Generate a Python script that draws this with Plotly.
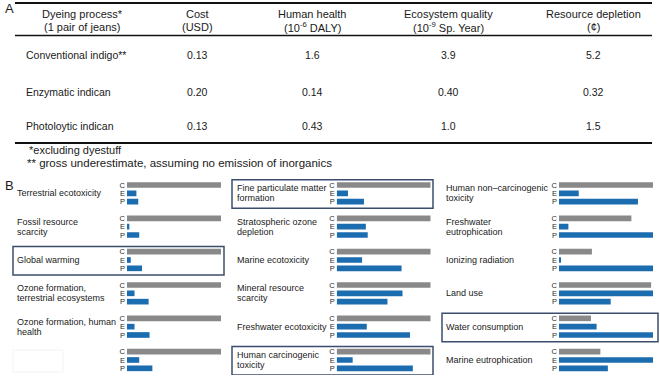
import plotly.graph_objects as go

W, H = 660, 376

# ---------------- Panel A data ----------------
table_headers = [["Dyeing process*", "(1 pair of jeans)"],
                 ["Cost", "(USD)"],
                 ["Human health", "(10<sup>-6</sup> DALY)"],
                 ["Ecosystem quality", "(10<sup>-9</sup> Sp. Year)"],
                 ["Resource depletion", "(¢)"]]
processes = ["Conventional indigo**", "Enzymatic indican", "Photoloytic indican"]
cost = ["0.13", "0.20", "0.13"]
human_health = ["1.6", "0.14", "0.43"]
ecosystem = ["3.9", "0.40", "1.0"]
resource = ["5.2", "0.32", "1.5"]
footnotes = ["*excluding dyestuff",
             "** gross underestimate, assuming no emission of inorganics"]

# ---------------- Panel B data ----------------
series = ["C", "E", "P"]
col1_labels = ["Terrestrial ecotoxicity", "Fossil resource<br>scarcity", "Global warming",
               "Ozone formation,<br>terrestrial ecosystems", "Ozone formation, human<br>health", ""]
col1_C = [1.0, 1.0, 1.0, 1.0, 1.0, 1.0]
col1_E = [0.10, 0.025, 0.04, 0.08, 0.08, 0.13]
col1_P = [0.12, 0.13, 0.16, 0.23, 0.24, 0.27]
col1_box = [2]

col2_labels = ["Fine particulate matter<br>formation", "Stratospheric ozone<br>depletion",
               "Marine ecotoxicity", "Mineral resource<br>scarcity", "Freshwater ecotoxicity",
               "Human carcinogenic<br>toxicity"]
col2_C = [1.0, 1.0, 1.0, 1.0, 1.0, 1.0]
col2_E = [0.12, 0.31, 0.27, 0.70, 0.32, 0.17]
col2_P = [0.29, 0.33, 0.69, 0.54, 0.78, 0.81]
col2_box = [0, 5]

col3_labels = ["Human non\u2013carcinogenic<br>toxicity", "Freshwater<br>eutrophication",
               "Ionizing radiation", "Land use", "Water consumption", "Marine eutrophication"]
col3_C = [1.0, 0.77, 0.35, 0.98, 0.34, 0.44]
col3_E = [0.21, 0.10, 0.015, 1.0, 0.40, 1.0]
col3_P = [0.84, 1.0, 1.0, 0.55, 1.0, 0.52]
col3_box = [4]

# ---------------- layout constants ----------------
FONT = "Liberation Sans, Arial, Helvetica, sans-serif"
TXT = "#1a1a1a"
GRAY = "#898989"
BLUE = "#1c6db0"
BOXC = "#3b4d6e"
UNIT = 33.33 / 4.0      # px per y unit
Y0 = 185.0              # px of first C bar
VLO, VHI = -1.0, 22.8


def px(x):
    return x / W


def py(y):
    return 1 - y / H


fig = go.Figure()
annotations = []
shapes = []


def text(x, y, s, size, xanchor="left", yref="paper", yshift=0, color=TXT):
    annotations.append(dict(x=x, y=y, xref="paper", yref=yref, text=s, showarrow=False,
                            xanchor=xanchor, yanchor="middle", yshift=yshift,
                            font=dict(family=FONT, size=size, color=color)))


# Panel letters
text(px(3), py(9), "A", 13)
text(px(3), py(185), "B", 13)

# Table rules
for yy, w in [(3, 1.8), (35.5, 1.6), (143, 1.8)]:
    shapes.append(dict(type="line", xref="paper", yref="paper", x0=px(15), x1=px(652),
                       y0=py(yy), y1=py(yy), line=dict(color="#111111", width=w)))

col_centers = [82, 197, 312, 448, 593]
for cx, hdr in zip(col_centers, table_headers):
    text(px(cx), py(14), hdr[0], 11, "center")
    text(px(cx), py(26.5), hdr[1], 11, "center")

row_y = [55, 91.5, 126]
for i, ry in enumerate(row_y):
    text(px(24), py(ry), processes[i], 10.5)
    for cx, col in zip(col_centers[1:], [cost, human_health, ecosystem, resource]):
        text(px(cx), py(ry), col[i], 10.5, "center")

text(px(27), py(150), footnotes[0], 11)
text(px(25), py(163), footnotes[1], 11.5)

# Panel B columns
columns = [
    dict(labels=col1_labels, vals=[col1_C, col1_E, col1_P], box=col1_box,
         bar=(127, 221), lab_x=15, box_x=(13, 224)),
    dict(labels=col2_labels, vals=[col2_C, col2_E, col2_P], box=col2_box,
         bar=(336.7, 430.7), lab_x=235, box_x=(232, 433)),
    dict(labels=col3_labels, vals=[col3_C, col3_E, col3_P], box=col3_box,
         bar=(559, 653), lab_x=444, box_x=(442, 658)),
]

ydom = [py(Y0 + VHI * UNIT), py(Y0 + VLO * UNIT)]
layout_axes = {}
for ci, col in enumerate(columns):
    n = "" if ci == 0 else str(ci + 1)
    xa, ya = "x" + n, "y" + n
    ngroups = len(col["labels"])
    tickvals, ticktext = [], []
    for k, s in enumerate(series):
        ys = [g * 4 + k for g in range(ngroups)]
        tickvals += ys
        ticktext += [s] * ngroups
        fig.add_trace(go.Bar(x=col["vals"][k], y=ys, orientation="h", width=0.68,
                             marker=dict(color=GRAY if s == "C" else BLUE, line=dict(width=0)),
                             xaxis=xa, yaxis=ya, showlegend=False, hoverinfo="x+name", name=s))
    layout_axes["xaxis" + n] = dict(domain=[px(col["bar"][0]), px(col["bar"][1])], range=[0, 1],
                                    visible=False, anchor=ya, fixedrange=True)
    layout_axes["yaxis" + n] = dict(domain=ydom, range=[VHI, VLO], anchor=xa,
                                    tickvals=tickvals, ticktext=ticktext, ticks="",
                                    showgrid=False, zeroline=False, showline=False,
                                    ticklabelstandoff=1, fixedrange=True,
                                    tickfont=dict(family=FONT, size=7.5, color="#2a2a2a"))
    # category labels
    for g, lab in enumerate(col["labels"]):
        if not lab:
            continue
        lines = lab.split("<br>")
        LS = 9.7
        for li, line in enumerate(lines):
            off = (li - (len(lines) - 1) / 2.0) * LS
            text(px(col["lab_x"]), g * 4 + 1, line, 9, yref=ya, yshift=-off)
    # highlight boxes
    for g in col["box"]:
        shapes.append(dict(type="rect", xref="paper", yref=ya,
                           x0=px(col["box_x"][0]), x1=px(col["box_x"][1]),
                           y0=g * 4 - 0.62, y1=g * 4 + 2.8,
                           line=dict(color=BOXC, width=1.5), fillcolor="rgba(0,0,0,0)"))

# faint blank label patch in column 1
shapes.append(dict(type="rect", xref="paper", yref="paper", x0=px(13), x1=px(63),
                   y0=py(372), y1=py(350), line=dict(color="#f3f3f3", width=1)))

fig.update_layout(width=W, height=H, margin=dict(l=0, r=0, t=0, b=0),
                  paper_bgcolor="white", plot_bgcolor="white", barmode="overlay",
                  annotations=annotations, shapes=shapes, **layout_axes)

fig.write_html("out.html", config={"displayModeBar": False},
               post_script="document.body.style.margin='0';document.body.style.overflow='hidden';")
